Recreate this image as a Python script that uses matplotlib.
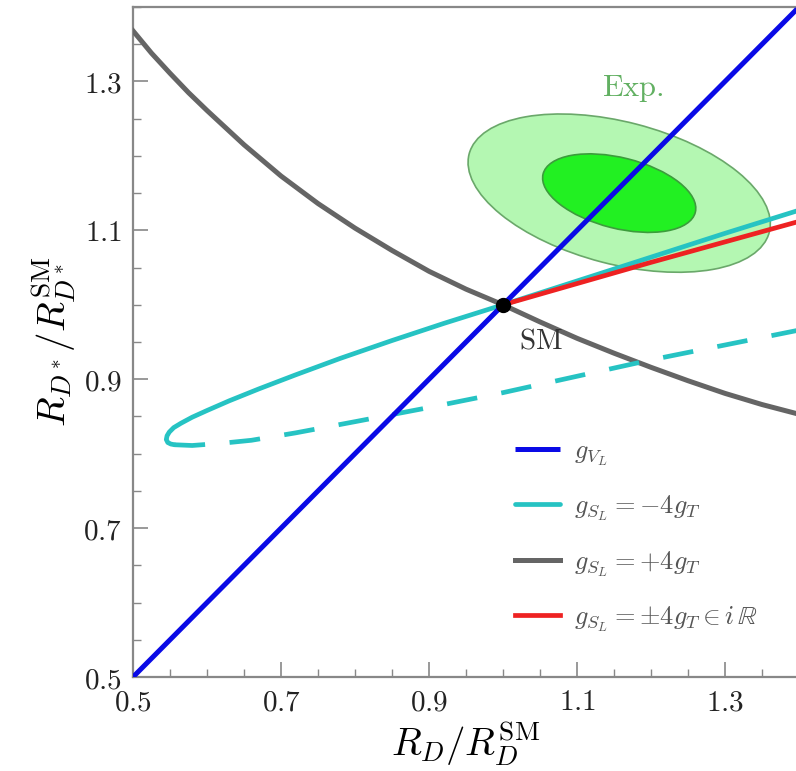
import matplotlib
matplotlib.use("Agg")
import matplotlib.pyplot as plt
from matplotlib.patches import Ellipse
from matplotlib.ticker import FixedLocator, FixedFormatter, MultipleLocator

plt.rcParams['mathtext.fontset'] = 'cm'
plt.rcParams['font.family'] = ['DejaVu Serif']

# g_VL line
blue_x = [0.5, 1.4]
blue_y = [0.5, 1.4]

# g_SL = +4 g_T
gray_x = [0.50, 0.525, 0.55, 0.575, 0.60, 0.65, 0.70, 0.75, 0.80, 0.85, 0.90, 0.95, 1.00,
          1.05, 1.10, 1.15, 1.20, 1.25, 1.30, 1.35, 1.40]
gray_y = [1.368, 1.338, 1.311, 1.285, 1.261, 1.215, 1.173, 1.136, 1.103, 1.073, 1.045,
          1.021, 1.000, 0.977, 0.955, 0.935, 0.916, 0.898, 0.881, 0.866, 0.853]

# g_SL = -4 g_T, solid branch (right -> tip -> hook)
cyan_solid_x = [1.40, 1.30, 1.20, 1.10, 1.00, 0.92, 0.85, 0.78, 0.72, 0.67, 0.63, 0.60,
                0.58, 0.565, 0.555, 0.549, 0.546, 0.545, 0.547, 0.551, 0.556]
cyan_solid_y = [1.127, 1.096, 1.064, 1.032, 1.000, 0.975, 0.952, 0.928, 0.906, 0.887, 0.871,
                0.858, 0.849, 0.841, 0.835, 0.829, 0.824, 0.819, 0.815, 0.813, 0.812]
# g_SL = -4 g_T, dashed branch
cyan_dash_x = [0.556, 0.58, 0.62, 0.66, 0.72, 0.80, 0.90, 1.00, 1.10, 1.20, 1.30, 1.40]
cyan_dash_y = [0.812, 0.811, 0.814, 0.818, 0.828, 0.843, 0.862, 0.882, 0.904, 0.926, 0.946, 0.966]

# g_SL = +-4 g_T in iR
red_x = [1.0, 1.2, 1.4]
red_y = [1.0, 1.057, 1.112]

# experimental ellipses: centre, widths, heights, angle
exp_center = (1.157, 1.150)
exp_widths = [0.419, 0.212]
exp_heights = [0.191, 0.095]
exp_angles = [-14.5, -14.0]

ticks = [0.5, 0.7, 0.9, 1.1, 1.3]
tick_labels = ['$0.5$', '$0.7$', '$0.9$', '$1.1$', '$1.3$']

legend_labels = [r'$g_{V_L}$', r'$g_{S_L} = -4g_T$', r'$g_{S_L} = +4g_T$',
                 r'$g_{S_L} = \pm 4g_T \in i\,\mathbb{R}$']

fig = plt.figure(figsize=(7.96, 7.71), dpi=100)
ax = fig.add_axes([0.1671, 0.1219, 0.8367, 0.869])

ax.add_patch(Ellipse(exp_center, exp_widths[0], exp_heights[0], angle=exp_angles[0],
                     facecolor='#b4f7b2', edgecolor='#6aa86a', lw=1.2, zorder=1))
ax.add_patch(Ellipse(exp_center, exp_widths[1], exp_heights[1], angle=exp_angles[1],
                     facecolor='#22f022', edgecolor='#3c9c3c', lw=1.2, zorder=2))

lb, = ax.plot(blue_x, blue_y, color='#0a0ae6', lw=3.6, zorder=5, solid_capstyle='butt')
lc, = ax.plot(cyan_solid_x, cyan_solid_y, color='#26c3c3', lw=3.4, zorder=4,
              solid_capstyle='round', solid_joinstyle='round')
ax.plot(cyan_dash_x, cyan_dash_y, color='#26c3c3', lw=3.4, zorder=4,
        dashes=(6.5, 5.2))
lg, = ax.plot(gray_x, gray_y, color='#656565', lw=3.6, zorder=3, solid_joinstyle='round')
lr, = ax.plot(red_x, red_y, color='#ee2222', lw=3.4, zorder=4)
ax.plot([1.0], [1.0], 'o', color='black', ms=10, zorder=6)

ax.text(1.176, 1.29, r'$\mathrm{Exp.}$', color='#62b062', fontsize=22,
        ha='center', va='center')
ax.text(1.051, 0.952, r'$\mathrm{SM}$', color='#333333', fontsize=21,
        ha='center', va='center')

ax.set_xlim(0.5, 1.4)
ax.set_ylim(0.5, 1.4)
for axis in (ax.xaxis, ax.yaxis):
    axis.set_major_locator(FixedLocator(ticks))
    axis.set_major_formatter(FixedFormatter(tick_labels))
    axis.set_minor_locator(MultipleLocator(0.05))
ax.tick_params(which='major', direction='in', length=11, width=1.2, color='#888888',
               labelsize=21, labelcolor='#222222', pad=8)
ax.tick_params(which='minor', direction='in', length=6, width=1.0, color='#888888')
for s in ax.spines.values():
    s.set_color('#888888')
    s.set_linewidth(1.6)

ax.set_xlabel(r'$R_D/R_D^{\mathrm{SM}}$', fontsize=28, labelpad=2)
ax.set_ylabel(r'$R_{D^*}/R_{D^*}^{\mathrm{SM}}$', fontsize=28, labelpad=4)

leg = ax.legend([lb, lc, lg, lr], legend_labels, loc='upper left',
                bbox_to_anchor=(0.538, 0.392), frameon=False, fontsize=19,
                handlelength=1.7, handletextpad=0.55, labelspacing=0.98)
for t in leg.get_texts():
    t.set_color('#555555')

fig.savefig('out.png', dpi=100)
